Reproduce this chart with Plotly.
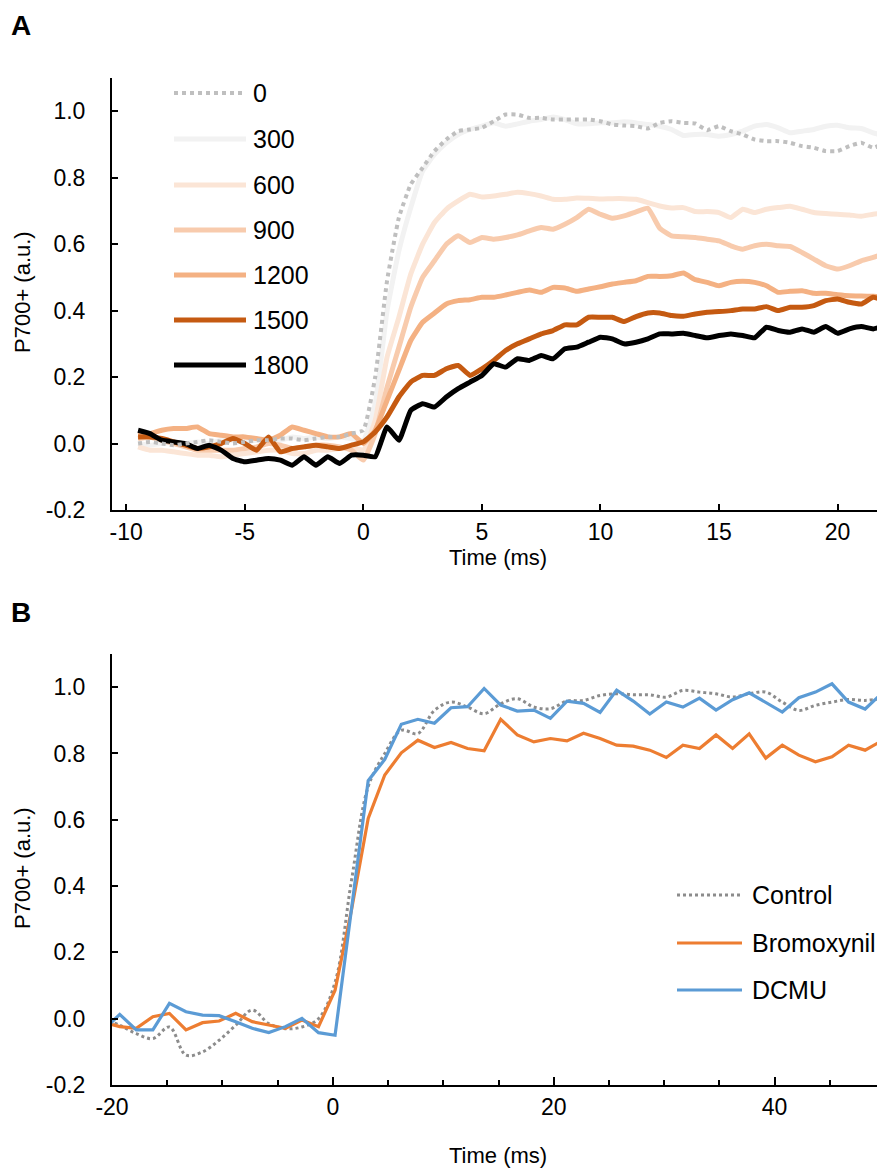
import plotly.graph_objects as go

# ---------------- Panel A data ----------------
time_a = [-9.5, -9.0, -8.5, -8.0, -7.5, -7.0, -6.5, -6.0, -5.5, -5.0, -4.5, -4.0, -3.5, -3.0, -2.5, -2.0,
          -1.5, -1.0, -0.5, 0.0, 0.5, 1.0, 1.5, 2.0, 2.5, 3.0, 3.5, 4.0, 4.5, 5.0, 5.5, 6.0, 6.5, 7.0,
          7.5, 8.0, 8.5, 9.0, 9.5, 10.0, 10.5, 11.0, 11.5, 12.0, 12.5, 13.0, 13.5, 14.0, 14.5, 15.0,
          15.5, 16.0, 16.5, 17.0, 17.5, 18.0, 18.5, 19.0, 19.5, 20.0, 20.5, 21.0, 21.5, 22.0]

a_0 = [0.0, 0.005, 0.0, -0.005, 0.0, 0.005, 0.01, 0.005, 0.0, 0.005, 0.01, 0.01, 0.015, 0.015, 0.01, 0.015,
       0.02, 0.02, 0.03, 0.04, 0.2, 0.49, 0.68, 0.78, 0.83, 0.88, 0.915, 0.94, 0.945, 0.95, 0.97, 0.99,
       0.99, 0.98, 0.98, 0.975, 0.975, 0.975, 0.975, 0.97, 0.96, 0.957, 0.955, 0.948, 0.965, 0.97, 0.965,
       0.963, 0.943, 0.955, 0.94, 0.93, 0.915, 0.91, 0.91, 0.905, 0.895, 0.89, 0.88, 0.88, 0.895, 0.905,
       0.89, 0.905]
a_300 = [0.0, -0.005, 0.0, 0.005, 0.0, 0.005, 0.0, 0.01, 0.01, 0.005, 0.01, 0.015, 0.01, 0.02, 0.015, 0.02,
         0.015, 0.02, 0.015, 0.01, 0.12, 0.40, 0.58, 0.71, 0.82, 0.87, 0.905, 0.93, 0.945, 0.955, 0.965,
         0.955, 0.962, 0.97, 0.975, 0.983, 0.975, 0.962, 0.962, 0.965, 0.965, 0.968, 0.965, 0.96, 0.955,
         0.945, 0.927, 0.93, 0.93, 0.925, 0.93, 0.94, 0.955, 0.96, 0.95, 0.935, 0.94, 0.945, 0.955, 0.958,
         0.95, 0.948, 0.935, 0.925]
a_600 = [-0.01, -0.02, -0.02, -0.025, -0.03, -0.035, -0.035, -0.04, -0.035, -0.03, -0.025, -0.02, -0.02,
         -0.03, -0.03, -0.02, -0.02, -0.015, -0.01, -0.02, 0.07, 0.26, 0.38, 0.51, 0.60, 0.665, 0.705, 0.73,
         0.75, 0.742, 0.745, 0.75, 0.756, 0.752, 0.745, 0.735, 0.735, 0.739, 0.738, 0.736, 0.737, 0.737,
         0.735, 0.725, 0.715, 0.709, 0.71, 0.698, 0.698, 0.695, 0.68, 0.705, 0.695, 0.705, 0.71, 0.714,
         0.705, 0.695, 0.692, 0.69, 0.688, 0.684, 0.69, 0.694]
a_900 = [0.015, 0.02, 0.01, 0.0, -0.01, -0.02, -0.02, -0.02, -0.02, -0.015, -0.01, 0.0, -0.005, -0.015,
         -0.01, -0.005, -0.005, -0.01, -0.02, -0.05, 0.03, 0.17, 0.29, 0.41, 0.50, 0.55, 0.60, 0.625, 0.605,
         0.62, 0.615, 0.62, 0.628, 0.64, 0.65, 0.645, 0.66, 0.68, 0.705, 0.69, 0.678, 0.685, 0.697, 0.708,
         0.648, 0.625, 0.622, 0.62, 0.615, 0.61, 0.595, 0.585, 0.595, 0.60, 0.595, 0.593, 0.575, 0.555,
         0.535, 0.525, 0.535, 0.55, 0.56, 0.573]
a_1200 = [0.025, 0.03, 0.04, 0.045, 0.045, 0.05, 0.03, 0.025, 0.02, 0.02, 0.015, 0.01, 0.025, 0.05, 0.04,
          0.03, 0.02, 0.02, 0.03, 0.0, 0.04, 0.13, 0.22, 0.31, 0.365, 0.393, 0.42, 0.43, 0.433, 0.44, 0.44,
          0.447, 0.455, 0.462, 0.455, 0.47, 0.468, 0.458, 0.465, 0.472, 0.48, 0.485, 0.49, 0.503, 0.503,
          0.505, 0.513, 0.493, 0.485, 0.475, 0.485, 0.488, 0.485, 0.475, 0.455, 0.458, 0.46, 0.452, 0.452,
          0.448, 0.445, 0.444, 0.443, 0.442]
a_1500 = [0.02, 0.02, 0.015, 0.005, -0.005, -0.015, -0.01, 0.0, 0.015, 0.0, -0.02, 0.02, -0.025, -0.015,
          -0.01, -0.005, -0.01, -0.015, -0.005, 0.005, 0.035, 0.08, 0.14, 0.185, 0.205, 0.205, 0.225, 0.235,
          0.205, 0.225, 0.25, 0.28, 0.30, 0.315, 0.33, 0.34, 0.357, 0.357, 0.38, 0.38, 0.38, 0.367, 0.382,
          0.393, 0.393, 0.385, 0.383, 0.39, 0.395, 0.397, 0.40, 0.405, 0.405, 0.412, 0.40, 0.41, 0.41, 0.415,
          0.43, 0.435, 0.425, 0.42, 0.44, 0.43]
a_1800 = [0.04, 0.03, 0.01, 0.005, 0.0, -0.015, -0.005, -0.02, -0.045, -0.055, -0.05, -0.045, -0.05, -0.065,
          -0.04, -0.065, -0.04, -0.06, -0.035, -0.035, -0.04, 0.05, 0.01, 0.10, 0.12, 0.11, 0.14, 0.165, 0.185,
          0.205, 0.24, 0.23, 0.255, 0.25, 0.265, 0.255, 0.285, 0.29, 0.305, 0.32, 0.315, 0.30, 0.305, 0.315,
          0.33, 0.33, 0.332, 0.325, 0.318, 0.325, 0.33, 0.325, 0.318, 0.35, 0.34, 0.335, 0.345, 0.335, 0.352,
          0.332, 0.345, 0.352, 0.345, 0.355]

labels_a = ["0", "300", "600", "900", "1200", "1500", "1800"]
colors_a = ["#BFBFBF", "#F2F2F2", "#FBE5D6", "#F8CBAD", "#F4B183", "#C55A11", "#000000"]

# ---------------- Panel B data ----------------
time_b = [-20.8, -19.3, -17.8, -16.3, -14.8, -13.3, -11.8, -10.3, -8.8, -7.3, -5.8, -4.3, -2.8, -1.3, 0.2,
          1.7, 3.2, 4.7, 6.2, 7.7, 9.2, 10.7, 12.2, 13.7, 15.2, 16.7, 18.2, 19.7, 21.2, 22.7, 24.2, 25.7,
          27.2, 28.7, 30.2, 31.7, 33.2, 34.7, 36.2, 37.7, 39.2, 40.7, 42.2, 43.7, 45.2, 46.7, 48.2, 49.7]
control = [0.0, -0.02, -0.045, -0.06, -0.025, -0.11, -0.10, -0.065, -0.02, 0.026, -0.015, -0.03, -0.025,
           0.0, 0.11, 0.42, 0.70, 0.80, 0.87, 0.86, 0.93, 0.955, 0.94, 0.92, 0.95, 0.965, 0.94, 0.935,
           0.958, 0.96, 0.975, 0.98, 0.977, 0.977, 0.97, 0.99, 0.985, 0.98, 0.97, 0.98, 0.985, 0.955, 0.93,
           0.945, 0.955, 0.963, 0.96, 0.966]
bromoxynil = [-0.01, -0.024, -0.029, 0.006, 0.016, -0.034, -0.012, -0.007, 0.016, -0.009, -0.019, -0.029,
              -0.004, -0.024, 0.086, 0.33, 0.604, 0.735, 0.802, 0.840, 0.818, 0.833, 0.815, 0.808, 0.903,
              0.856, 0.835, 0.845, 0.838, 0.861, 0.845, 0.825, 0.822, 0.810, 0.788, 0.825, 0.815, 0.856,
              0.815, 0.859, 0.786, 0.825, 0.795, 0.775, 0.790, 0.825, 0.810, 0.838]
dcmu = [-0.035, 0.013, -0.034, -0.034, 0.046, 0.021, 0.011, 0.009, -0.009, -0.029, -0.042, -0.024, 0.001,
        -0.042, -0.05, 0.33, 0.718, 0.782, 0.888, 0.903, 0.891, 0.938, 0.941, 0.996, 0.946, 0.928, 0.931,
        0.906, 0.958, 0.951, 0.924, 0.991, 0.958, 0.919, 0.955, 0.940, 0.967, 0.931, 0.962, 0.983, 0.955,
        0.925, 0.968, 0.985, 1.01, 0.955, 0.934, 0.981]
labels_b = ["Control", "Bromoxynil", "DCMU"]
colors_b = ["#8C8C8C", "#ED7D31", "#5B9BD5"]

y_ticks = [-0.2, 0.0, 0.2, 0.4, 0.6, 0.8, 1.0]
y_tick_text = ["-0.2", "0.0", "0.2", "0.4", "0.6", "0.8", "1.0"]
x_ticks_a = [-10, -5, 0, 5, 10, 15, 20]
x_tick_text_a = ["-10", "-5", "0", "5", "10", "15", "20"]
x_ticks_b = [-20, 0, 20, 40]
x_tick_text_b = ["-20", "0", "20", "40"]

# ---------------- Figure ----------------
# the page body has an 8 px margin, so the figure is drawn 8 px smaller and offset
OFF = 8
W, H = 885 - OFF, 1169 - OFF
ML, MR, MT, MB = 112 - OFF, 0, 78 - OFF, 1169 - 1085
PW, PH = W - ML - MR, H - MT - MB


def xp(px):
    return (px - OFF - ML) / PW


def yp(py):
    return (H - MB - (py - OFF)) / PH


FONT = "Liberation Sans, Arial, sans-serif"
TICK_SIZE = 23
fig = go.Figure()

series_a = [a_300, a_600, a_900, a_1200, a_1500, a_1800, a_0]
order_a = [1, 2, 3, 4, 5, 6, 0]
for idx, vals in zip(order_a, series_a):
    fig.add_trace(go.Scatter(
        x=time_a, y=vals, mode="lines", name=labels_a[idx], showlegend=False,
        line=dict(color=colors_a[idx], width=5 if idx else 4, dash="dot" if idx == 0 else "solid",
                  shape="spline", smoothing=0.4),
        xaxis="x", yaxis="y"))

for name, vals, col in zip(labels_b, [control, bromoxynil, dcmu], colors_b):
    fig.add_trace(go.Scatter(
        x=time_b, y=vals, mode="lines", name=name, showlegend=False,
        line=dict(color=col, width=3.2 if name != "Control" else 3, dash="dot" if name == "Control" else "solid",
                  shape="spline" if name == "Control" else "linear"),
        xaxis="x2", yaxis="y2"))

axis_common = dict(showline=True, linecolor="black", linewidth=2, ticks="inside", tickcolor="black",
                   tickwidth=2, showgrid=False, zeroline=False, automargin=False,
                   tickfont=dict(family=FONT, size=TICK_SIZE, color="black"))

yA_bot = yp(510)
yB_top = yp(654)

fig.update_layout(
    width=W, height=H, margin=dict(l=ML, r=MR, t=MT, b=MB),
    plot_bgcolor="white", paper_bgcolor="white",
    xaxis=dict(domain=[0, 1], anchor="y", range=[-10.6, 22], tickvals=x_ticks_a, ticktext=x_tick_text_a,
               ticklen=6, ticklabelstandoff=0, **axis_common),
    yaxis=dict(domain=[yA_bot, 1], anchor="x", range=[-0.2, 1.1], tickvals=y_ticks, ticktext=y_tick_text,
               ticklen=6, ticklabelstandoff=20, **axis_common),
    xaxis2=dict(domain=[0, 1], anchor="y2", range=[-20, 50], tickvals=x_ticks_b, ticktext=x_tick_text_b,
                ticklen=8, ticklabelstandoff=0,
                minor=dict(dtick=5, tick0=0, ticks="inside", ticklen=5, tickcolor="black", tickwidth=2),
                **axis_common),
    yaxis2=dict(domain=[0, yB_top], anchor="x2", range=[-0.2, 1.1], tickvals=y_ticks, ticktext=y_tick_text,
                ticklen=6, ticklabelstandoff=20, **axis_common),
)

shapes = []
annotations = []

# Axis titles
for py in [557, 1155]:
    annotations.append(dict(text="Time (ms)", xref="paper", yref="paper", x=xp(498), y=yp(py),
                            xanchor="center", yanchor="middle", showarrow=False,
                            font=dict(family=FONT, size=22, color="black")))
for py in [292, 868]:
    annotations.append(dict(text="P700+ (a.u.)", xref="paper", yref="paper", x=xp(22), y=yp(py),
                            xanchor="center", yanchor="middle", showarrow=False, textangle=-90,
                            font=dict(family=FONT, size=22, color="black")))

# Panel A legend
leg_a_y = [93, 139, 185, 230, 275, 320, 365]
for i, lab in enumerate(labels_a):
    shapes.append(dict(type="line", xref="paper", yref="paper", x0=xp(174), x1=xp(246),
                       y0=yp(leg_a_y[i]), y1=yp(leg_a_y[i]),
                       line=dict(color=colors_a[i], width=5 if i else 4, dash="dot" if i == 0 else "solid")))
    annotations.append(dict(text=lab, xref="paper", yref="paper", x=xp(251), y=yp(leg_a_y[i]),
                            xanchor="left", yanchor="middle", showarrow=False,
                            font=dict(family=FONT, size=25, color="black")))

# Panel B legend
leg_b_y = [895, 943, 990]
for i, lab in enumerate(labels_b):
    shapes.append(dict(type="line", xref="paper", yref="paper", x0=xp(677), x1=xp(742),
                       y0=yp(leg_b_y[i]), y1=yp(leg_b_y[i]),
                       line=dict(color=colors_b[i], width=3, dash="dot" if i == 0 else "solid")))
    annotations.append(dict(text=lab, xref="paper", yref="paper", x=xp(750), y=yp(leg_b_y[i]),
                            xanchor="left", yanchor="middle", showarrow=False,
                            font=dict(family=FONT, size=25, color="black")))

# Panel letters
for lab, py in [("A", 25), ("B", 612)]:
    annotations.append(dict(text="<b>%s</b>" % lab, xref="paper", yref="paper", x=xp(9), y=yp(py),
                            xanchor="left", yanchor="middle", showarrow=False,
                            font=dict(family=FONT, size=28, color="black")))

fig.update_layout(shapes=shapes, annotations=annotations)
fig.write_html("out.html")
